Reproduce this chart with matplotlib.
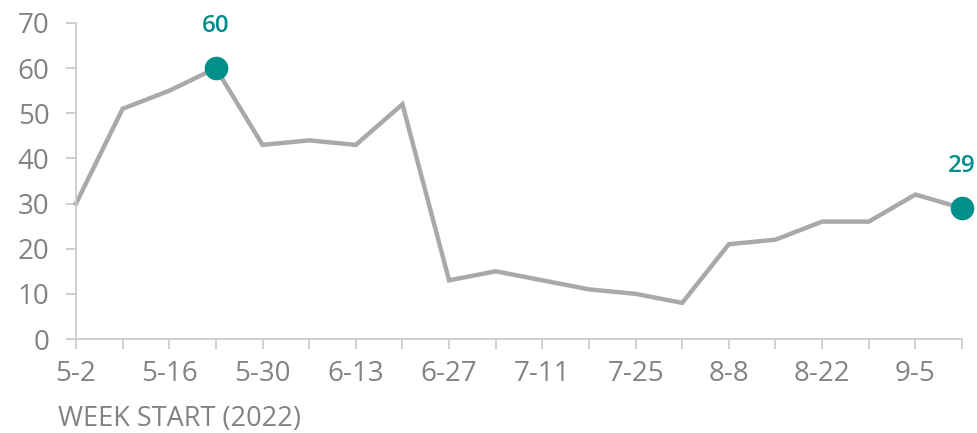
import matplotlib
matplotlib.use("Agg")
import matplotlib.pyplot as plt

weeks = ["5-2", "5-9", "5-16", "5-23", "5-30", "6-6", "6-13", "6-20", "6-27", "7-4",
         "7-11", "7-18", "7-25", "8-1", "8-8", "8-15", "8-22", "8-29", "9-5", "9-12"]
values = [30, 51, 55, 60, 43, 44, 43, 52, 13, 15, 13, 11, 10, 8, 21, 22, 26, 26, 32, 29]
highlight_idx = [3, 19]
yticks = [0, 10, 20, 30, 40, 50, 60, 70]
xlabel = "WEEK START (2022)"

plt.rcParams['font.family'] = ['Open Sans', 'DejaVu Sans']
GRAY = "#838383"
LINE = "#a9a9a9"
TEAL = "#008f8a"
AXC = "#cccccc"

fig = plt.figure(figsize=(9.78, 4.33), dpi=100)
ax = fig.add_axes([76/978, 1-339/433, (962-76)/978, (339-23)/433])

x = list(range(len(weeks)))
ax.plot(x, values, color=LINE, lw=3.2, solid_joinstyle='miter', clip_on=False, zorder=2)
for i in highlight_idx:
    ax.plot(x[i], values[i], 'o', color=TEAL, ms=17, clip_on=False, zorder=3, mec='none')
    ax.annotate(str(values[i]), (x[i], values[i]), xytext=(0, 30), textcoords='offset points',
                ha='center', va='center', color=TEAL, fontsize=17.5, fontweight='semibold')

ax.set_xlim(0, len(weeks)-1)
ax.set_ylim(0, 70)
ax.set_yticks(yticks)
ax.set_yticklabels([str(v) for v in yticks])
ax.set_xticks(x)
ax.set_xticklabels([w if i % 2 == 0 else "" for i, w in enumerate(weeks)])

for s in ['top', 'right']:
    ax.spines[s].set_visible(False)
for s in ['left', 'bottom']:
    ax.spines[s].set_color(AXC)
    ax.spines[s].set_linewidth(1.3)
ax.tick_params(axis='both', colors=AXC, width=1.3, length=7, labelcolor=GRAY, labelsize=20)
ax.tick_params(axis='y', pad=12)
ax.tick_params(axis='x', pad=8)

fig.text(58/978, 1-419/433, xlabel, ha='left', va='center', color=GRAY, fontsize=19.5)

fig.savefig("out.png", dpi=100)
